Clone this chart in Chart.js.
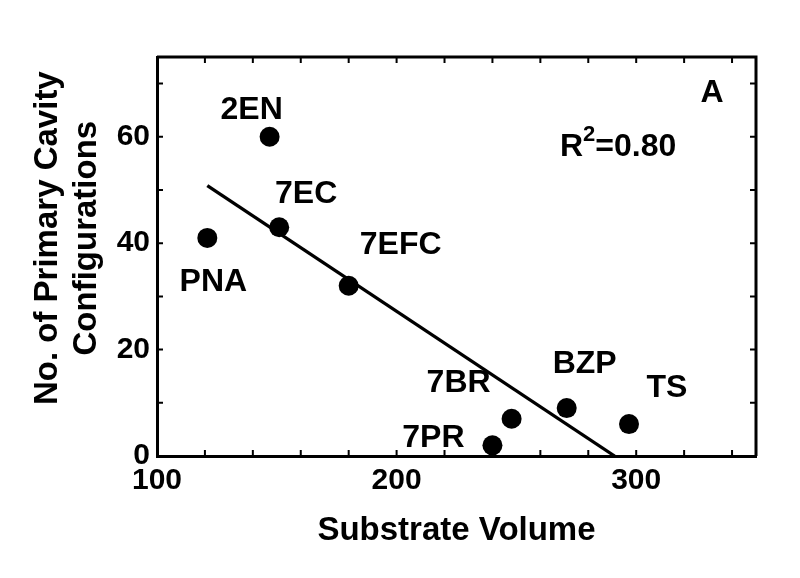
<!DOCTYPE html>
<html>
<head>
<meta charset="utf-8">
<script src="https://cdn.jsdelivr.net/npm/chart.js@4"></script>
<style>
	html, body { margin: 0; padding: 0; background: #fff; }
	canvas { display: block; }
</style>
</head>
<body>
<canvas id="chart" width="800" height="578"></canvas>
<script>
// values
const pointNames = ['PNA', '2EN', '7EC', '7EFC', '7PR', '7BR', 'BZP', 'TS'];
const substrateVolume = [121, 147, 151, 180, 240, 248, 271, 297];
const cavityConfigs = [41, 60, 43, 32, 2, 7, 9, 6];
const fitVolume = [121, 291];
const fitConfigs = [50.8, 0];
const xTickLabels = [100, 200, 300];
const yTickLabels = [0, 20, 40, 60];
const rSquared = '0.80';
const panelLetter = 'A';

// where each name sits relative to its dot (px, dy is to the baseline)
const labelOffsets = {
	PNA: [6, 53],
	'2EN': [-18, -18],
	'7EC': [27, -24],
	'7EFC': [52, -32],
	'7PR': [-59, 2],
	'7BR': [-53, -27],
	BZP: [18, -35],
	TS: [38, -27],
};

const black = '#000';
const family = '"Liberation Sans", Arial, Helvetica, sans-serif';
Chart.defaults.font.family = family;
Chart.defaults.color = black;

const points = substrateVolume.map((x, i) => ({ x, y: cavityConfigs[i] }));
const fitLine = fitVolume.map((x, i) => ({ x, y: fitConfigs[i] }));

const frameAndLabels = {
	id: 'frameAndLabels',
	afterDatasetsDraw(chart) {
		const { ctx, chartArea: a } = chart;
		const xs = chart.scales.x;
		const ys = chart.scales.y;
		ctx.save();
		ctx.strokeStyle = black;
		// top and right edges
		ctx.lineWidth = 3;
		ctx.beginPath();
		ctx.moveTo(a.left, a.top);
		ctx.lineTo(a.right, a.top);
		ctx.lineTo(a.right, a.bottom);
		ctx.stroke();
		// inward ticks on all four sides
		ctx.lineWidth = 2;
		ctx.beginPath();
		xs.ticks.forEach((t) => {
			const px = xs.getPixelForValue(t.value);
			ctx.moveTo(px, a.bottom);
			ctx.lineTo(px, a.bottom - 6);
			ctx.moveTo(px, a.top);
			ctx.lineTo(px, a.top + 6);
		});
		ys.ticks.forEach((t) => {
			const py = ys.getPixelForValue(t.value);
			ctx.moveTo(a.left, py);
			ctx.lineTo(a.left + 6, py);
			ctx.moveTo(a.right, py);
			ctx.lineTo(a.right - 6, py);
		});
		ctx.stroke();

		// point names
		ctx.fillStyle = black;
		ctx.font = 'bold 32px ' + family;
		ctx.textAlign = 'center';
		ctx.textBaseline = 'alphabetic';
		pointNames.forEach((name, i) => {
			const [dx, dy] = labelOffsets[name];
			const px = xs.getPixelForValue(substrateVolume[i]);
			const py = ys.getPixelForValue(cavityConfigs[i]);
			ctx.fillText(name, px + dx, py + dy);
		});

		// panel letter
		ctx.fillText(panelLetter, a.right - 44, a.top + 45);

		// R^2 note
		ctx.textAlign = 'left';
		let rx = a.left + 403;
		const ry = a.top + 99;
		ctx.fillText('R', rx, ry);
		rx += ctx.measureText('R').width;
		ctx.font = 'bold 22px ' + family;
		ctx.fillText('2', rx, ry - 15);
		rx += ctx.measureText('2').width;
		ctx.font = 'bold 32px ' + family;
		ctx.fillText('=' + rSquared, rx, ry);
		ctx.restore();
	},
};

new Chart(document.getElementById('chart'), {
	type: 'scatter',
	data: {
		datasets: [
			{
				data: points,
				pointRadius: 10,
				pointHoverRadius: 10,
				backgroundColor: black,
				borderColor: black,
				borderWidth: 0,
			},
			{
				type: 'line',
				data: fitLine,
				borderColor: black,
				borderWidth: 3.3,
				pointRadius: 0,
				fill: false,
			},
		],
	},
	plugins: [frameAndLabels],
	options: {
		responsive: false,
		animation: false,
		events: [],
		layout: {
			padding: { top: 57, right: 44, left: 0, bottom: 0 },
		},
		plugins: {
			legend: { display: false },
			tooltip: { enabled: false },
		},
		scales: {
			x: {
				type: 'linear',
				min: 100,
				max: 350,
				afterFit(scale) {
					scale.height = 122;
				},
				grid: { display: false, drawTicks: false },
				border: { display: true, color: black, width: 3 },
				ticks: {
					stepSize: 20,
					includeBounds: false,
					autoSkip: false,
					maxRotation: 0,
					padding: 7,
					color: black,
					font: { size: 30, weight: 'bold' },
					callback: (v) => (xTickLabels.includes(v) ? v : ''),
				},
				title: {
					display: true,
					text: 'Substrate Volume',
					color: black,
					font: { size: 33, weight: 'bold' },
					padding: { top: 0, bottom: 27 },
				},
			},
			y: {
				min: 0,
				max: 75,
				afterFit(scale) {
					scale.width = 157;
				},
				grid: { display: false, drawTicks: false },
				border: { display: true, color: black, width: 3 },
				ticks: {
					stepSize: 10,
					includeBounds: false,
					autoSkip: false,
					padding: 7,
					color: black,
					font: { size: 30, weight: 'bold' },
					callback: (v) => (yTickLabels.includes(v) ? v : ''),
				},
				title: {
					display: true,
					// leading spaces nudge the block up, as in the figure
					text: ['    No. of Primary Cavity', '    Configurations'],
					color: black,
					font: { size: 33, weight: 'bold', lineHeight: 1.2 },
					padding: { top: 28, bottom: 0 },
				},
			},
		},
	},
});
</script>
</body>
</html>
